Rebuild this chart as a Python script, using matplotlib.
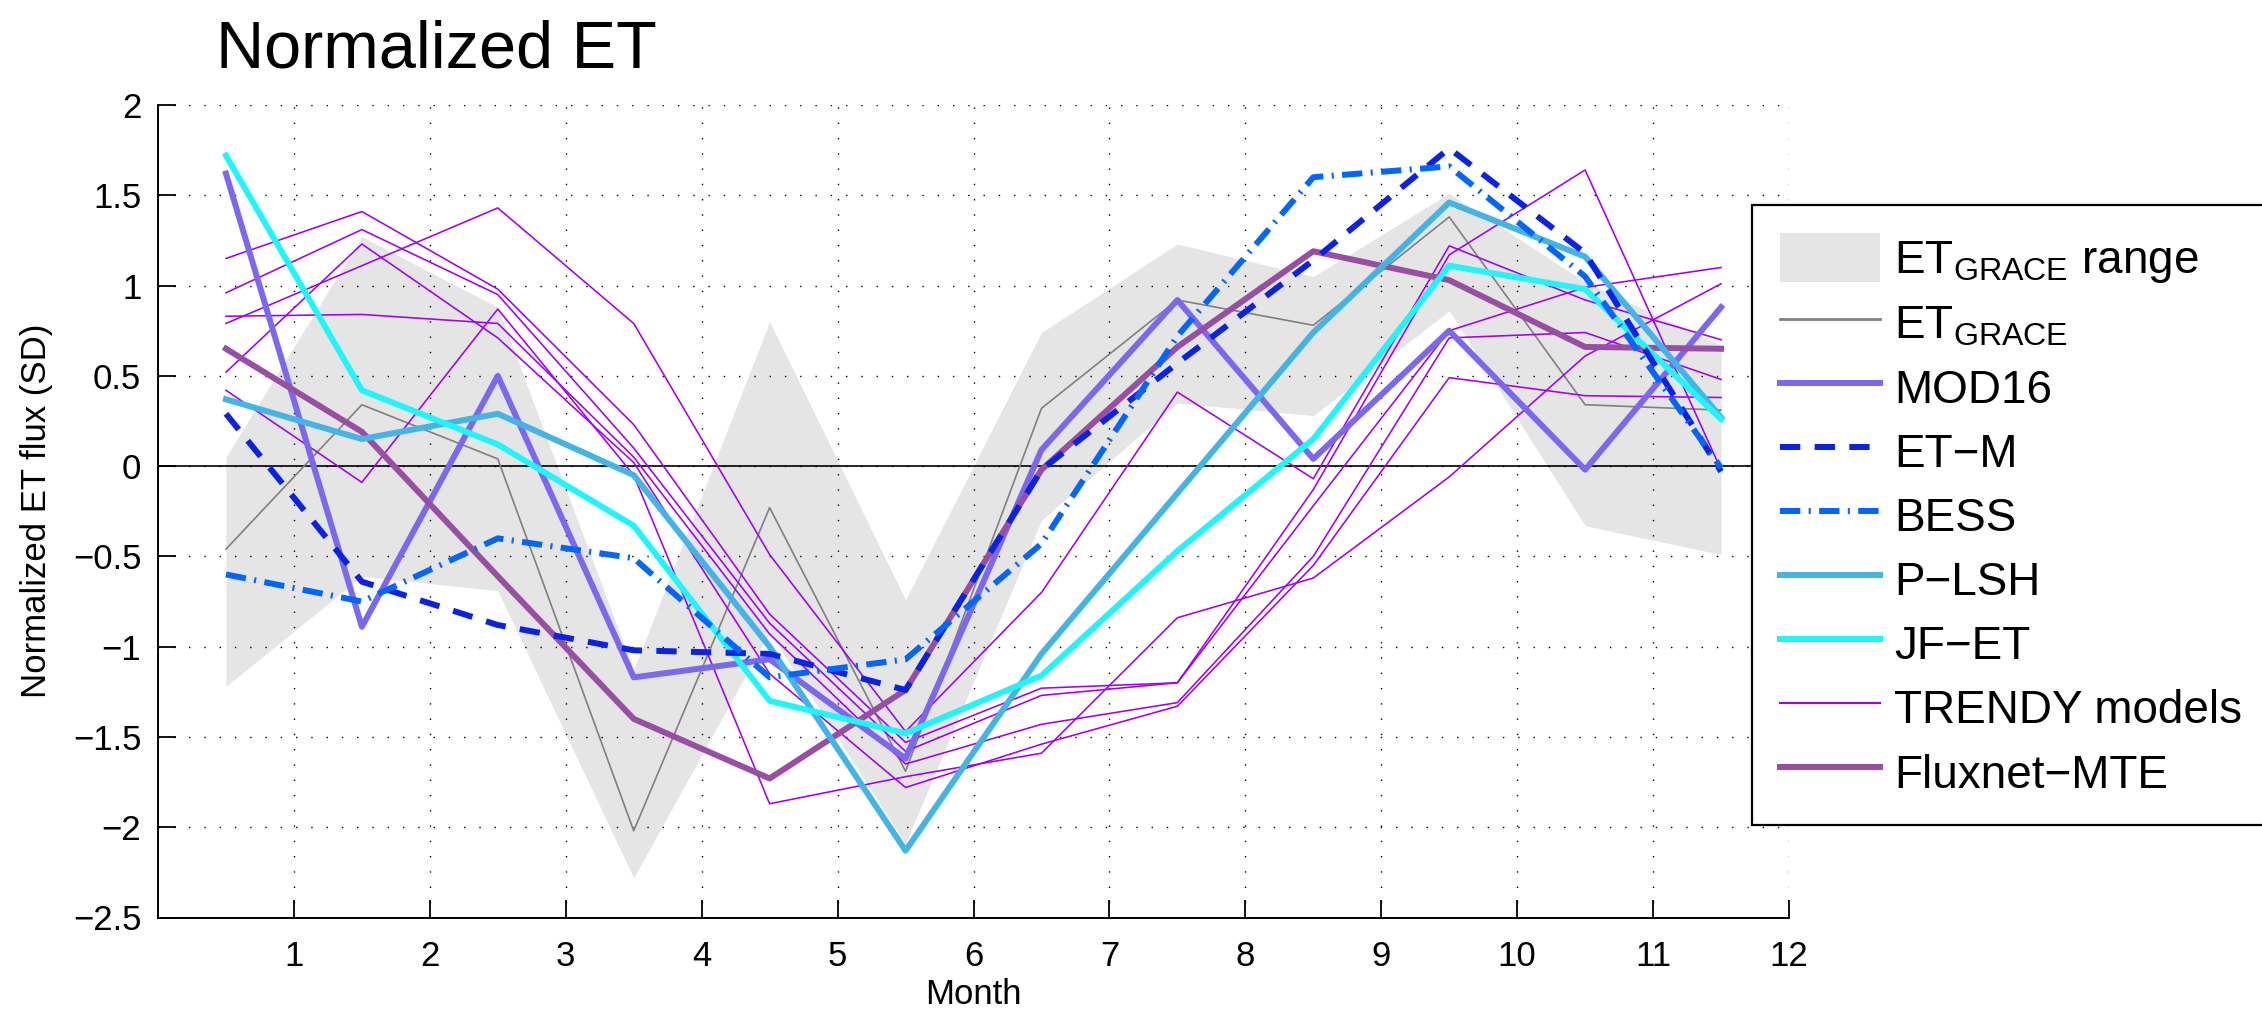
import numpy as np
import matplotlib
matplotlib.use("Agg")
import matplotlib.pyplot as plt
from matplotlib.lines import Line2D
from matplotlib.patches import Patch
from matplotlib.ticker import FuncFormatter

plt.rcParams['font.family'] = ['Liberation Sans', 'DejaVu Sans']
plt.rcParams['mathtext.fontset'] = 'custom'
plt.rcParams['mathtext.rm'] = 'Liberation Sans'
plt.rcParams['mathtext.it'] = 'Liberation Sans'

# monthly values (mid-month positions)
months = [0.5, 1.5, 2.5, 3.5, 4.5, 5.5, 6.5, 7.5, 8.5, 9.5, 10.5, 11.5]

grace_hi = [0.05, 1.27, 0.88, -1.13, 0.80, -0.74, 0.74, 1.23, 1.05, 1.51, 1.02, 0.67]
grace_lo = [-1.22, -0.61, -0.69, -2.28, -0.92, -2.09, -0.30, 0.35, 0.28, 0.86, -0.33, -0.49]
et_grace = [-0.46, 0.34, 0.04, -2.02, -0.23, -1.69, 0.32, 0.92, 0.78, 1.38, 0.34, 0.31]

mod16 = [1.62, -0.89, 0.50, -1.17, -1.07, -1.62, 0.09, 0.92, 0.04, 0.75, -0.02, 0.88]
et_m = [0.29, -0.64, -0.88, -1.02, -1.04, -1.24, -0.02, 0.57, 1.14, 1.76, 1.18, -0.03]
bess = [-0.60, -0.75, -0.40, -0.51, -1.17, -1.07, -0.43, 0.72, 1.60, 1.66, 1.05, -0.01]
p_lsh = [0.37, 0.15, 0.29, -0.05, -1.00, -2.13, -1.04, -0.15, 0.74, 1.46, 1.16, 0.27]
jf_et = [1.72, 0.42, 0.12, -0.33, -1.30, -1.48, -1.16, -0.47, 0.15, 1.11, 0.98, 0.26]
fluxnet = [0.65, 0.19, -0.61, -1.40, -1.73, -1.24, -0.02, 0.66, 1.19, 1.03, 0.66, 0.65]

trendy1 = [1.15, 1.41, 0.98, 0.23, -0.82, -1.53, -1.23, -1.20, -0.22, 0.75, 0.99, 1.10]
trendy2 = [0.96, 1.31, 0.95, 0.10, -0.87, -1.58, -1.27, -1.20, -0.13, 1.17, 1.64, -0.02]
trendy3 = [0.83, 0.84, 0.79, 0.05, -0.93, -1.65, -1.43, -1.31, -0.50, 0.71, 0.74, 0.48]
trendy4 = [0.79, 1.11, 1.43, 0.79, -0.49, -1.47, -0.70, 0.41, -0.07, 1.22, 0.92, 0.70]
trendy5 = [0.52, 1.23, 0.71, 0.02, -1.15, -1.78, -1.54, -1.33, -0.55, 0.49, 0.39, 0.38]
trendy6 = [0.42, -0.09, 0.87, -0.05, -1.87, -1.72, -1.59, -0.84, -0.62, -0.06, 0.61, 1.01]
trendy = [trendy1, trendy2, trendy3, trendy4, trendy5, trendy6]

x_ticks = list(range(1, 13))
y_ticks = [-2.5, -2, -1.5, -1, -0.5, 0, 0.5, 1, 1.5, 2]

c_shade = '#e5e5e5'
c_grace = '#808080'
c_mod16 = '#7b68ee'
c_etm = '#0a22e6'
c_bess = '#0066ff'
c_plsh = '#42b4e6'
c_jfet = '#1ff5fa'
c_trendy = '#a000f5'
c_flux = '#984ea3'

W, H = 2262, 1011
fig = plt.figure(figsize=(W / 100, H / 100), dpi=100)
ax = fig.add_axes([158 / W, 1 - 917.5 / H, (1789 - 158) / W, (917.5 - 105) / H])

lw_thick = 4.3
dash_etm = (0, (3.4, 2.4))
dash_bess = (0, (3.4, 1.4, 0.35, 1.4))

ax.fill_between(months, grace_lo, grace_hi, color=c_shade, lw=0, zorder=0.2)
ax.axhline(0, color='black', lw=1.2, zorder=0.8)
ax.plot(months, et_grace, color=c_grace, lw=1.2, zorder=2)
for t in trendy:
    ax.plot(months, t, color=c_trendy, lw=1.15, zorder=2.1)
ax.plot(months, mod16, color=c_mod16, lw=lw_thick, zorder=3)
ax.plot(months, fluxnet, color=c_flux, lw=lw_thick, zorder=3.1)
ax.plot(months, p_lsh, color=c_plsh, lw=lw_thick, zorder=3.2)
ax.plot(months, jf_et, color=c_jfet, lw=lw_thick, zorder=3.3)
ax.plot(months, et_m, color=c_etm, lw=lw_thick, ls=dash_etm, zorder=3.4)
ax.plot(months, bess, color=c_bess, lw=lw_thick, ls=dash_bess, zorder=3.5)

ax.set_xlim(0, 12)
ax.set_ylim(-2.5, 2)
ax.set_xticks(x_ticks)
ax.set_yticks(y_ticks)
ax.yaxis.set_major_formatter(FuncFormatter(lambda v, p: f'{v:g}'.replace('-', '\u2212')))
ax.tick_params(direction='in', length=13, width=1.3, labelsize=25, pad=12)
ax.tick_params(axis='x', pad=16)
ax.grid(True, color='black', ls=(0, (1, 10)), lw=1.0)
ax.set_axisbelow(True)
for s in ['top', 'right']:
    ax.spines[s].set_visible(False)
for s in ['left', 'bottom']:
    ax.spines[s].set_linewidth(1.4)

ax.set_xlabel('Month', fontsize=25, labelpad=4)
ax.set_ylabel('Normalized ET flux (SD)', fontsize=25, labelpad=14)

fig.text(216 / W, 1 - 68 / H, 'Normalized ET', fontsize=48, ha='left', va='baseline')

handles = [
    Patch(facecolor=c_shade, edgecolor='none'),
    Line2D([], [], color=c_grace, lw=2.0),
    Line2D([], [], color=c_mod16, lw=lw_thick),
    Line2D([], [], color=c_etm, lw=lw_thick, ls=dash_etm),
    Line2D([], [], color=c_bess, lw=lw_thick, ls=dash_bess),
    Line2D([], [], color=c_plsh, lw=lw_thick),
    Line2D([], [], color=c_jfet, lw=lw_thick),
    Line2D([], [], color=c_trendy, lw=1.5),
    Line2D([], [], color=c_flux, lw=lw_thick),
]
labels = [r'ET$_{\mathrm{GRACE}}$ range', r'ET$_{\mathrm{GRACE}}$', 'MOD16', 'ET\u2212M', 'BESS',
          'P\u2212LSH', 'JF\u2212ET', 'TRENDY models', 'Fluxnet\u2212MTE']
leg = ax.legend(handles, labels, loc='upper left', bbox_to_anchor=(1752 / W, 1 - 205 / H),
                bbox_transform=fig.transFigure, fontsize=33, frameon=True, fancybox=False,
                framealpha=1, edgecolor='black', borderpad=0.6, labelspacing=0.3,
                handlelength=2.2, handleheight=1.3, handletextpad=0.3, borderaxespad=0)
leg.get_frame().set_linewidth(1.6)
leg.set_zorder(10)

fig.savefig('out.png', dpi=100)
